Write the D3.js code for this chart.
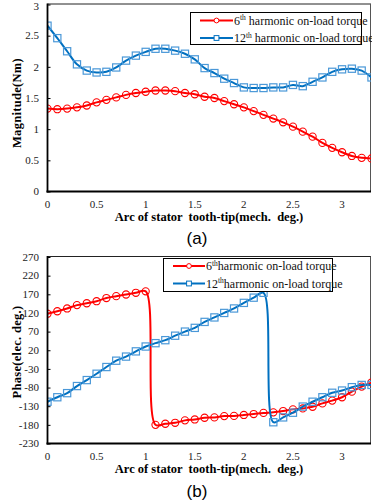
<!DOCTYPE html>
<html lang="en">
<head>
    <meta charset="UTF-8">
    <title>Harmonic on-load torque</title>
    <script src="https://d3js.org/d3.v7.min.js"></script>
    <style>
        body { margin: 0; background: #fff; }
        svg { display: block; }
        text { font-family: "Liberation Serif", "DejaVu Serif", serif; }
    </style>
</head>
<body>
    <svg id="chart" width="372" height="503"></svg>
    <script>
        // arc of stator tooth-tip (mech. deg.)
        const arc = [0, 0.1, 0.2, 0.3, 0.4, 0.5, 0.6, 0.7, 0.8, 0.9, 1.0, 1.1, 1.2, 1.3, 1.4, 1.5, 1.6,
                     1.7, 1.8, 1.9, 2.0, 2.1, 2.2, 2.3, 2.4, 2.5, 2.6, 2.7, 2.8, 2.9, 3.0, 3.1, 3.2, 3.3];

        // (a) magnitude, Nm
        const mag6 = [1.33, 1.32, 1.33, 1.35, 1.38, 1.43, 1.47, 1.51, 1.55, 1.58, 1.60, 1.62, 1.62, 1.61, 1.58, 1.56, 1.52,
                      1.50, 1.45, 1.40, 1.35, 1.29, 1.23, 1.17, 1.11, 1.04, 0.96, 0.88, 0.78, 0.70, 0.63, 0.57, 0.54, 0.53];
        const mag12 = [2.66, 2.46, 2.25, 2.04, 1.94, 1.91, 1.92, 1.99, 2.10, 2.18, 2.24, 2.29, 2.29, 2.26, 2.21, 2.12, 1.98,
                       1.90, 1.81, 1.74, 1.67, 1.66, 1.66, 1.67, 1.67, 1.71, 1.69, 1.76, 1.83, 1.92, 1.96, 1.97, 1.94, 1.83];

        // (b) phase, elec. deg.
        const phase6 = [118, 124.5, 132, 141, 146, 151.5, 160, 165, 169.5, 174, 178, -180, -177, -174.5, -168, -165.5, -161,
                        -160, -156.5, -156, -153.5, -151, -148, -146.5, -143, -138.5, -136, -131.5, -122.5, -115, -106, -91, -77.5, -66.5];
        const phase12 = [-118, -106, -95, -76, -60, -43, -25, -8, 3, 17, 30, 39, 47, 59, 70, 80, 96,
                         108, 120, 132, 147, 161, 174, -173, -160, -147.5, -131, -118, -106, -94, -88, -79, -73, -73];

        const xTicks = [0, 0.5, 1, 1.5, 2, 2.5, 3];
        const magTicks = [0, 0.5, 1, 1.5, 2, 2.5, 3];
        const phaseTicks = [-230, -180, -130, -80, -30, 20, 70, 120, 170, 220, 270];

        const legendNames = ["harmonic on-load torque", "harmonic on-load torque"];

        const RED = "#ff0000";
        const BLUE = "#0070c0";
        const BLUE_MARK = "#4a98d8";

        const svg = d3.select("#chart");

        function drawPanel(cfg) {
            const g = svg.append("g");
            const x = d3.scaleLinear().domain([0, 3.3]).range([cfg.left, cfg.right]);
            const y = d3.scaleLinear().domain(cfg.yDomain).range([cfg.bottom, cfg.top]);

            const clipId = "clip-" + cfg.id;
            svg.append("clipPath").attr("id", clipId)
                .append("rect")
                .attr("x", cfg.left).attr("y", cfg.top - 6)
                .attr("width", cfg.right - cfg.left - 0.5).attr("height", cfg.bottom - cfg.top + 6);

            // frame (top / right thin)
            g.append("line").attr("x1", cfg.left).attr("x2", cfg.right - 0.5)
                .attr("y1", cfg.top - 0.5).attr("y2", cfg.top - 0.5)
                .attr("stroke", "#222").attr("stroke-width", 1);
            g.append("line").attr("x1", cfg.right - 1).attr("x2", cfg.right - 1)
                .attr("y1", cfg.top - 0.5).attr("y2", cfg.bottom)
                .attr("stroke", "#555").attr("stroke-width", 1);

            // y axis, ticks inside
            const yAxis = d3.axisRight(y).tickValues(cfg.yTicks).tickSize(3).tickFormat("");
            const ya = g.append("g").attr("transform", `translate(${cfg.left},0)`).call(yAxis);
            ya.select(".domain").remove();
            ya.selectAll("line").attr("stroke", "#000");
            g.selectAll(".ylab").data(cfg.yTicks).enter().append("text")
                .attr("x", 39).attr("y", d => Math.max(y(d) + 3.8, 10))
                .attr("text-anchor", "end").attr("font-size", "11px").attr("fill", "#222")
                .text(d => d);

            // x tick labels
            g.selectAll(".xlab").data(xTicks).enter().append("text")
                .attr("x", d => x(d)).attr("y", cfg.bottom + 16.5)
                .attr("text-anchor", "middle").attr("font-size", "11px").attr("fill", "#222")
                .text(d => d);

            // series
            const plot = g.append("g").attr("clip-path", `url(#${clipId})`);
            const line = d3.line().x(d => x(d[0])).y(d => y(d[1])).curve(d3.curveCatmullRom.alpha(0.5));

            cfg.series.forEach(s => {
                const pts = arc.map((a, i) => [a, s.values[i]]);
                plot.append("path").attr("d", line(pts))
                    .attr("fill", "none").attr("stroke", s.color).attr("stroke-width", 2);
                if (s.shape === "circle") {
                    plot.selectAll(null).data(pts).enter().append("circle")
                        .attr("cx", d => x(d[0])).attr("cy", d => y(d[1])).attr("r", 3.6)
                        .attr("fill", "none").attr("stroke", s.mark).attr("stroke-width", 1.1);
                } else {
                    plot.selectAll(null).data(pts).enter().append("rect")
                        .attr("x", d => x(d[0]) - 3.6).attr("y", d => y(d[1]) - 3.6)
                        .attr("width", 7.2).attr("height", 7.2)
                        .attr("fill", "none").attr("stroke", s.mark).attr("stroke-width", 1.2);
                }
            });

            // axis lines (left / bottom thick)
            g.append("line").attr("x1", cfg.left).attr("x2", cfg.left)
                .attr("y1", cfg.top - 1).attr("y2", cfg.bottom + 1)
                .attr("stroke", "#000").attr("stroke-width", 1.8);
            g.append("line").attr("x1", cfg.left - 1).attr("x2", cfg.right - 0.5)
                .attr("y1", cfg.bottom).attr("y2", cfg.bottom)
                .attr("stroke", "#000").attr("stroke-width", 2);

            // axis titles
            g.append("text").attr("x", 209).attr("y", cfg.bottom + 29.5)
                .attr("text-anchor", "middle").attr("font-size", "12.5px").attr("font-weight", "bold")
                .attr("xml:space", "preserve")
                .text("Arc of stator  tooth-tip(mech.  deg.)");
            g.append("text")
                .attr("transform", `translate(21,${cfg.yTitleY}) rotate(-90)`)
                .attr("text-anchor", "middle").attr("font-size", "12.5px").attr("font-weight", "bold")
                .attr("letter-spacing", "0.3px")
                .text(cfg.yTitle);

            // panel label
            g.append("text").attr("x", 197).attr("y", cfg.labelY)
                .attr("text-anchor", "middle").attr("font-size", "17px")
                .style("font-family", "'Liberation Sans', Arial, sans-serif")
                .text(cfg.label);

            // legend
            const L = cfg.legend;
            g.append("rect").attr("x", L.x).attr("y", L.y).attr("width", L.w).attr("height", L.h)
                .attr("fill", "#fff").attr("stroke", "#000").attr("stroke-width", 1);
            cfg.series.forEach((s, i) => {
                const ly = L.y + L.row0 + i * L.dy;
                g.append("line").attr("x1", L.lx0).attr("x2", L.lx1).attr("y1", ly).attr("y2", ly)
                    .attr("stroke", s.color).attr("stroke-width", 2);
                const mx = (L.lx0 + L.lx1) / 2;
                if (s.shape === "circle") {
                    g.append("circle").attr("cx", mx).attr("cy", ly).attr("r", 2.4)
                        .attr("fill", "#fff").attr("stroke", s.color).attr("stroke-width", 1);
                } else {
                    g.append("rect").attr("x", mx - 2.4).attr("y", ly - 2.4).attr("width", 4.8).attr("height", 4.8)
                        .attr("fill", "#fff").attr("stroke", s.color).attr("stroke-width", 1);
                }
                const t = g.append("text").attr("x", L.lx1 + 1).attr("y", ly + 4)
                    .attr("font-size", L.fs).attr("fill", "#111");
                t.append("tspan").text(s.order);
                t.append("tspan").attr("dy", -4.5).attr("font-size", "7.5px").text("th");
                t.append("tspan").attr("dy", 4.5).text(L.gap + legendNames[i]);
            });
        }

        drawPanel({
            id: "a", left: 47.5, right: 371.5, top: 4.5, bottom: 191.5,
            yDomain: [0, 3], yTicks: magTicks,
            yTitle: "Magnitude(Nm)", yTitleY: 103,
            label: "(a)", labelY: 244,
            legend: { x: 190.5, y: 12.5, w: 171, h: 32, row0: 8, dy: 17.5, lx0: 200, lx1: 233, gap: " ", fs: "12px" },
            series: [
                { order: "6", values: mag6, color: RED, mark: RED, shape: "circle" },
                { order: "12", values: mag12, color: BLUE, mark: BLUE_MARK, shape: "square" }
            ]
        });

        drawPanel({
            id: "b", left: 47.5, right: 371.5, top: 257, bottom: 443.5,
            yDomain: [-230, 270], yTicks: phaseTicks,
            yTitle: "Phase(elec. deg.)", yTitleY: 352,
            label: "(b)", labelY: 497,
            legend: { x: 163.5, y: 258.5, w: 169, h: 33, row0: 7.5, dy: 17.5, lx0: 173, lx1: 205, gap: "", fs: "12px" },
            series: [
                { order: "6", values: phase6, color: RED, mark: RED, shape: "circle" },
                { order: "12", values: phase12, color: BLUE, mark: BLUE_MARK, shape: "square" }
            ]
        });
    </script>
</body>
</html>
